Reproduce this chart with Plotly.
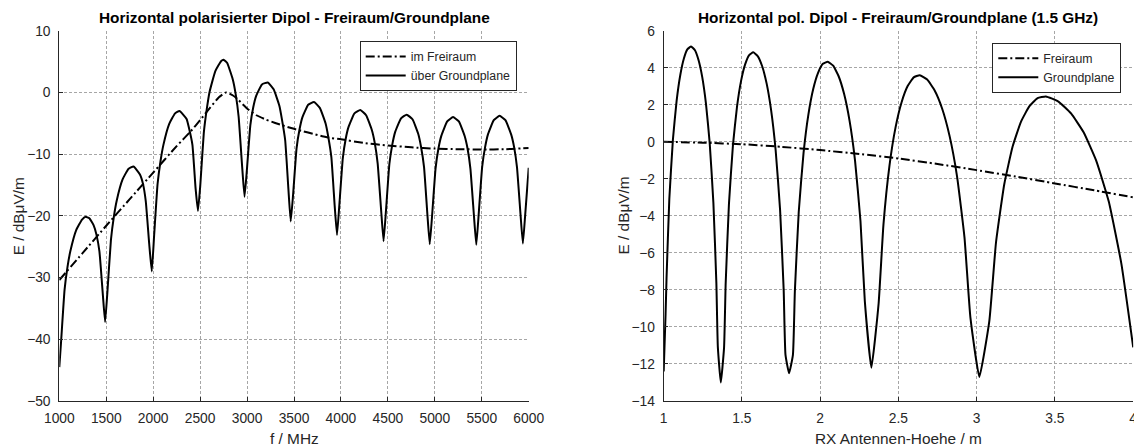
import plotly.graph_objects as go

W, H = 1134, 448
FONT = "Liberation Sans, Arial, sans-serif"
TXT = "#262626"

def xp(px):
    return px / W

def yp(py):
    return 1 - py / H

# ---------------- Left chart: field strength vs frequency ----------------
f_free = [1000, 1250, 1500, 1750, 2000, 2250, 2400, 2500, 2600, 2700, 2777, 2850, 2900,
          3000, 3100, 3200, 3300, 3400, 3500, 3600, 3700, 3800, 3900, 4000, 4250, 4500,
          4750, 5000, 5250, 5500, 5750, 6000]
e_free = [-30.4, -26.0, -21.6, -17.3, -13.0, -8.7, -6.3, -4.5, -2.6, -0.8, 0.0, -0.5, -1.1,
          -2.6, -3.7, -4.4, -4.95, -5.45, -5.9, -6.3, -6.7, -7.1, -7.4, -7.6, -8.2, -8.6,
          -8.9, -9.1, -9.2, -9.25, -9.2, -9.0]

f_gp = [1000, 1019, 1056, 1087, 1118, 1180, 1242, 1280, 1320, 1365, 1395, 1427, 1464, 1488,
        1513, 1550, 1581, 1612, 1674, 1736, 1790, 1859, 1892, 1921, 1958, 1985,
        2010, 2047, 2078, 2109, 2171, 2233, 2280, 2356, 2384, 2418, 2452, 2477,
        2502, 2539, 2570, 2601, 2663, 2725, 2750, 2787, 2848, 2880, 2910, 2948, 2973,
        2998, 3035, 3066, 3097, 3159, 3221, 3283, 3344, 3372, 3406, 3440, 3465,
        3490, 3527, 3558, 3589, 3651, 3713, 3775, 3836, 3865, 3898, 3933, 3958,
        3983, 4020, 4051, 4082, 4144, 4206, 4268, 4329, 4361, 4391, 4429, 4454,
        4479, 4516, 4547, 4578, 4640, 4700, 4762, 4823, 4853, 4885, 4921, 4946,
        4971, 5008, 5039, 5070, 5132, 5194, 5256, 5317, 5349, 5379, 5417, 5442,
        5467, 5504, 5535, 5566, 5628, 5690, 5752, 5813, 5845, 5875, 5913, 5938,
        5963, 6000]
e_gp = [-44.5, -40.4, -32.0, -28.3, -25.7, -22.3, -20.6, -20.15, -20.4, -21.5, -23.0, -25.7, -32.8, -37.2,
        -32.2, -23.9, -20.15, -17.5, -14.1, -12.4, -12.0, -13.3, -14.86, -17.6, -24.6, -29.0,
        -23.2, -14.8, -11.15, -8.5, -5.1, -3.4, -3.0, -4.3, -5.94, -8.5, -15.6, -19.2,
        -15.0, -6.6, -2.8, 0.1, 3.5, 5.1, 5.3, 4.8, 2.1, -0.4, -3.9, -12.1, -16.9,
        -12.6, -5.3, -2.4, -0.55, 1.3, 1.6, 0.5, -2.15, -4.4, -7.75, -15.6, -20.9,
        -16.65, -9.1, -6.05, -4.05, -2.0, -1.55, -2.5, -5.0, -7.2, -10.5, -18.3, -23.1,
        -18.25, -10.65, -7.5, -5.55, -3.4, -2.85, -3.7, -6.1, -8.25, -11.5, -19.25, -24.1,
        -19.3, -11.6, -8.45, -6.4, -4.2, -3.6, -4.35, -6.7, -8.8, -12.05, -19.8, -24.6,
        -19.95, -12.3, -9.05, -7.0, -4.7, -4.0, -4.7, -7.03, -9.13, -12.34, -20.05, -24.7,
        -19.8, -12.1, -8.9, -6.8, -4.5, -3.8, -4.5, -6.8, -8.9, -12.1, -19.8, -24.5,
        -19.75, -12.2]

x1_ticks = [1000, 1500, 2000, 2500, 3000, 3500, 4000, 4500, 5000, 5500, 6000]
y1_ticks = [-50, -40, -30, -20, -10, 0, 10]

# ---------------- Right chart: field strength vs RX height ----------------
h_free = [1.0, 1.25, 1.5, 1.75, 2.0, 2.25, 2.5, 2.75, 3.0, 3.25, 3.5, 3.75, 4.0]
e_free_h = [0.0, -0.05, -0.13, -0.27, -0.45, -0.66, -0.9, -1.2, -1.53, -1.88, -2.25, -2.62, -3.0]

h_gp = [1.0, 1.012, 1.018, 1.036, 1.059, 1.0825, 1.106, 1.129, 1.152, 1.175,
        1.1988, 1.2225, 1.2463, 1.27, 1.2938, 1.3175, 1.3365, 1.346, 1.365,
        1.3857, 1.396, 1.4168, 1.4426, 1.4685, 1.4944, 1.5203, 1.5461, 1.572,
        1.6006, 1.6293, 1.6579, 1.6865, 1.7151, 1.7438, 1.7667, 1.7781, 1.801,
        1.8257, 1.8381, 1.8628, 1.8936, 1.9245, 1.9554, 1.9863, 2.0171, 2.048,
        2.0829, 2.1178, 2.1526, 2.1875, 2.2224, 2.2573, 2.2852, 2.327,
        2.3734, 2.4043, 2.4429, 2.4815, 2.5201, 2.5588, 2.5974, 2.636,
        2.6836, 2.7313, 2.7789, 2.8265, 2.8741, 2.9218, 2.9599, 3.017,
        3.0808, 3.1233, 3.1764, 3.2295, 3.2826, 3.3358, 3.3889, 3.442,
        3.5224, 3.6028, 3.6831, 3.7635, 3.8439, 3.9243, 4.0]
e_gp_h = [-12.4, -9.3, -7.4, -3.08, 0.13, 2.21, 3.61, 4.5, 5.0, 5.15,
          4.96, 4.42, 3.49, 2.06, -0.06, -3.3, -7.62, -11.09, -13.0,
          -11.12, -7.67, -3.38, -0.17, 1.9, 3.29, 4.18, 4.68, 4.83,
          4.63, 4.08, 3.14, 1.7, -0.43, -3.69, -8.02, -11.49, -12.5,
          -11.51, -8.07, -3.79, -0.6, 1.47, 2.85, 3.72, 4.21, 4.32,
          4.11, 3.54, 2.59, 1.14, -1.0, -4.28, -8.61, -12.2,
          -8.72, -4.46, -1.27, 0.78, 2.14, 3.01, 3.48, 3.6,
          3.36, 2.77, 1.8, 0.32, -1.85, -5.15, -9.5, -12.7,
          -9.67, -5.44, -2.28, -0.26, 1.08, 1.91, 2.36, 2.45,
          2.17, 1.53, 0.51, -1.02, -3.23, -6.58, -11.1]

x2_ticks = [1, 1.5, 2, 2.5, 3, 3.5, 4]
x2_labels = ["1", "1.5", "2", "2.5", "3", "3.5", "4"]
y2_ticks = [-14, -12, -10, -8, -6, -4, -2, 0, 2, 4, 6]

# ---------------- Figure ----------------
DASHDOT = "9px,3px,2px,3px"
fig = go.Figure()
fig.add_trace(go.Scatter(x=f_free, y=e_free, mode="lines", name="im Freiraum",
                         line=dict(color="black", width=2, dash=DASHDOT, shape="spline", smoothing=0.5),
                         xaxis="x", yaxis="y", legend="legend"))
fig.add_trace(go.Scatter(x=f_gp, y=e_gp, mode="lines", name="über Groundplane",
                         line=dict(color="black", width=2, shape="spline", smoothing=0.4),
                         xaxis="x", yaxis="y", legend="legend"))
fig.add_trace(go.Scatter(x=h_free, y=e_free_h, mode="lines", name="Freiraum",
                         line=dict(color="black", width=2, dash=DASHDOT, shape="spline", smoothing=0.5),
                         xaxis="x2", yaxis="y2", legend="legend2"))
fig.add_trace(go.Scatter(x=h_gp, y=e_gp_h, mode="lines", name="Groundplane",
                         line=dict(color="black", width=2, shape="spline", smoothing=0.4),
                         xaxis="x2", yaxis="y2", legend="legend2"))

TOP, BOT = 30.7, 401.0
ydom = [yp(BOT), yp(TOP)]

def axis_style(**kw):
    d = dict(showline=True, linecolor=TXT, linewidth=1, mirror=False,
             ticks="inside", ticklen=4, tickwidth=1, tickcolor=TXT,
             showgrid=True, gridcolor="#a6a6a6", gridwidth=1, griddash="3px,2px",
             zeroline=False, tickfont=dict(family=FONT, size=13.8, color=TXT),
             fixedrange=True, automargin=False, ticklabeloverflow="allow")
    d.update(kw)
    return d

LEGFONT = dict(family=FONT, size=12.3, color=TXT)
fig.update_layout(
    template="none",
    width=W, height=H, autosize=False,
    margin=dict(l=0, r=0, t=0, b=0, pad=0),
    paper_bgcolor="white", plot_bgcolor="white",
    font=dict(family=FONT, color=TXT),
    xaxis=axis_style(domain=[xp(59.3), xp(528.7)], range=[1000, 6000], tickvals=x1_ticks,
                     anchor="y", ticklabelstandoff=4),
    yaxis=axis_style(domain=ydom, range=[-50, 10], tickvals=y1_ticks, anchor="x",
                     ticklabelstandoff=5),
    xaxis2=axis_style(domain=[xp(663.7), min(1.0, xp(1133.2))], range=[1, 4], tickvals=x2_ticks,
                      ticktext=x2_labels, anchor="y2", ticklabelstandoff=4),
    yaxis2=axis_style(domain=ydom, range=[-14, 6], tickvals=y2_ticks, anchor="x2",
                      ticklabelstandoff=5),
    legend=dict(x=xp(516.7), y=yp(41), xanchor="right", yanchor="top",
                bordercolor=TXT, borderwidth=1, bgcolor="white", itemwidth=40,
                font=LEGFONT, tracegroupgap=0),
    legend2=dict(x=xp(1121.3), y=yp(42.7), xanchor="right", yanchor="top",
                 bordercolor=TXT, borderwidth=1, bgcolor="white", itemwidth=40,
                 font=LEGFONT, tracegroupgap=0),
    showlegend=True,
)

ann = [
    dict(text="<b>Horizontal polarisierter Dipol - Freiraum/Groundplane</b>",
         x=294, y=17.5, size=15.4, color="black"),
    dict(text="<b>Horizontal pol. Dipol - Freiraum/Groundplane (1.5 GHz)</b>",
         x=898, y=17.5, size=15.4, color="black"),
    dict(text="f / MHz", x=294, y=438, size=15.4, color=TXT),
    dict(text="RX Antennen-Hoehe / m", x=898.5, y=438, size=15.4, color=TXT),
    dict(text="E / dBμV/m", x=18.3, y=216, size=15.4, color=TXT, angle=-90),
    dict(text="E / dBμV/m", x=622.5, y=216, size=15.4, color=TXT, angle=-90),
]
for a in ann:
    fig.add_annotation(text=a["text"], x=xp(a["x"]), y=yp(a["y"]), xref="paper", yref="paper",
                       xanchor="center", yanchor="middle", showarrow=False,
                       textangle=a.get("angle", 0),
                       font=dict(family=FONT, size=a["size"], color=a["color"]))

# remove the page's default 8px body margin so the 1134x448 figure fills the window exactly
fig.write_html("out.html",
               config={"displayModeBar": False},
               post_script="document.body.style.margin='0';document.body.style.overflow='hidden';")
